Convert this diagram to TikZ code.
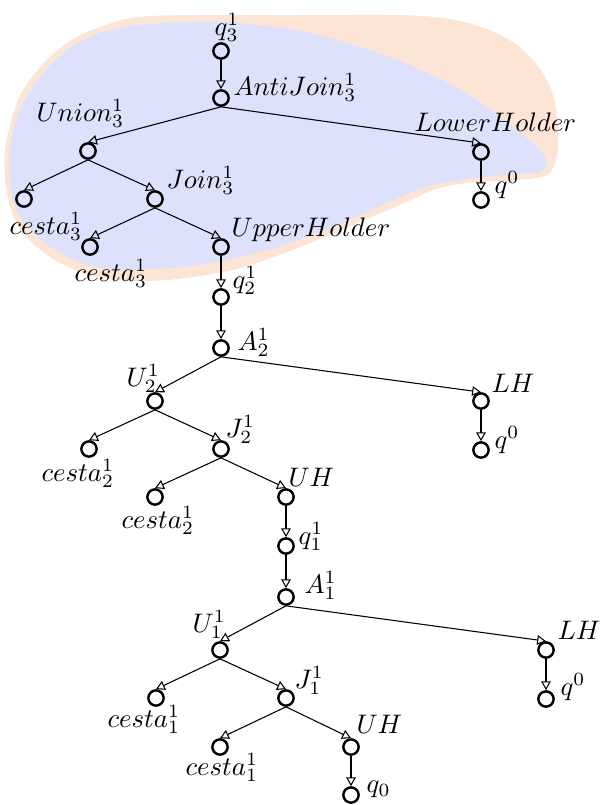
\documentclass[tikz,border=0pt]{standalone}
\usetikzlibrary{arrows.meta,calc}
\definecolor{peach}{RGB}{253,229,214}
\definecolor{lav}{RGB}{221,225,252}
\begin{document}
\begin{tikzpicture}[x=0.3731pt,y=-0.3731pt,
  st/.style={circle,draw,line width=0.9pt,minimum size=5.7pt,inner sep=0pt},
  lb/.style={anchor=base west,inner sep=0pt},
  ed/.style={-{Triangle[open,length=3.3pt,width=3.6pt]}}]
\useasboundingbox (0,0) rectangle (600,805);
\fill[peach] plot[smooth cycle] coordinates {(5,150) (18,100) (40,67) (67,43) (100,27) (150,16) (300,15) (400,15) (450,19) (487,29) (517,45) (540,69) (553,95) (558,127) (557,157) (547,175) (517,180) (467,183) (433,190) (400,205) (300,247) (233,270) (167,280) (117,280) (83,273) (50,257) (20,230) (7,193)};
\fill[lav] plot[smooth cycle] coordinates {(10,150) (20,110) (40,77) (67,50) (100,33) (140,25) (183,22) (230,22) (300,31) (350,44) (400,61) (450,84) (483,104) (517,130) (540,150) (547,163) (540,172) (517,174) (483,177) (433,185) (400,197) (333,227) (267,250) (200,265) (133,270) (100,268) (67,257) (33,233) (13,200)};
% nodes
\node[st] (q3) at (221,51) {};
\node[st] (aj) at (221,98) {};
\node[st] (un) at (88,151) {};
\node[st] (lo) at (481,152) {};
\node[st] (q0a) at (481,200) {};
\node[st] (c3a) at (24,199) {};
\node[st] (jo) at (155,199) {};
\node[st] (c3b) at (90,247) {};
\node[st] (up) at (221,247) {};
\node[st] (q2) at (221,297) {};
\node[st] (a2) at (221,348) {};
\node[st] (u2) at (155,401) {};
\node[st] (lh2) at (481,401) {};
\node[st] (q0b) at (481,450) {};
\node[st] (c2a) at (89,449) {};
\node[st] (j2) at (221,449) {};
\node[st] (c2b) at (155,497) {};
\node[st] (uh2) at (286,497) {};
\node[st] (q1) at (286,546) {};
\node[st] (a1) at (286,597) {};
\node[st] (u1) at (220,650) {};
\node[st] (lh1) at (546,650) {};
\node[st] (q0c) at (546,699) {};
\node[st] (c1a) at (156,698) {};
\node[st] (j1) at (286,698) {};
\node[st] (c1b) at (220,747) {};
\node[st] (uh1) at (351,747) {};
\node[st] (q00) at (351,795) {};
% labels
\node[lb] (lq3) at (214,35) {$q_3^1$};
\node[lb] (laj) at (233,95) {$AntiJoin_3^1$};
\node[lb] (lun) at (36,121) {$Union_3^1$};
\node[lb] (llo) at (414,131) {$LowerHolder$};
\node[lb] (lq0a) at (494,193) {$q^0$};
\node[lb] (lc3a) at (9,234) {$cesta_3^1$};
\node[lb] (ljo) at (166,188) {$Join_3^1$};
\node[lb] (lc3b) at (74,281) {$cesta_3^1$};
\node[lb] (lup) at (231,236) {$UpperHolder$};
\node[lb] (lq2) at (232,288) {$q_2^1$};
\node[lb] (la2) at (237,350) {$A_2^1$};
\node[lb] (lu2) at (126,386) {$U_2^1$};
\node[lb] (llh2) at (491,392) {$LH$};
\node[lb] (lq0b) at (494,448) {$q^0$};
\node[lb] (lc2a) at (41,481) {$cesta_2^1$};
\node[lb] (lj2) at (225,437) {$J_2^1$};
\node[lb] (lc2b) at (121,528) {$cesta_2^1$};
\node[lb] (luh2) at (288,486) {$UH$};
\node[lb] (lq1) at (298,544) {$q_1^1$};
\node[lb] (la1) at (304,593) {$A_1^1$};
\node[lb] (lu1) at (192,632) {$U_1^1$};
\node[lb] (llh1) at (557,639) {$LH$};
\node[lb] (lq0c) at (560,695) {$q^0$};
\node[lb] (lc1a) at (107,727) {$cesta_1^1$};
\node[lb] (lj1) at (294,688) {$J_1^1$};
\node[lb] (lc1b) at (185,775) {$cesta_1^1$};
\node[lb] (luh1) at (356,733) {$UH$};
\node[lb] (lq00) at (366,792) {$q_0$};
% edges
\foreach \a/\b in {q3/aj,aj/un,aj/lo,lo/q0a,un/c3a,un/jo,jo/c3b,jo/up,up/q2,q2/a2,a2/u2,a2/lh2,lh2/q0b,u2/c2a,u2/j2,j2/c2b,j2/uh2,uh2/q1,q1/a1,a1/u1,a1/lh1,lh1/q0c,u1/c1a,u1/j1,j1/c1b,j1/uh1,uh1/q00}
  \draw[ed] (\a.south) -- (\b.north);
\end{tikzpicture}
\end{document}
